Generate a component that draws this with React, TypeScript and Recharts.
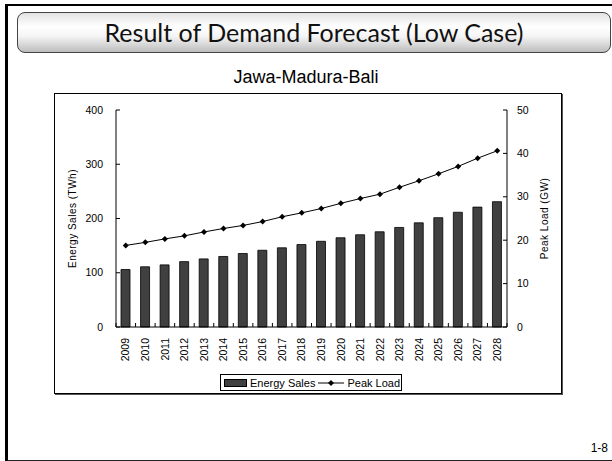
import { ComposedChart, Bar, Line, XAxis, YAxis, Label } from 'recharts';

// years on the x axis
const years = [
  '2009', '2010', '2011', '2012', '2013', '2014', '2015', '2016', '2017', '2018',
  '2019', '2020', '2021', '2022', '2023', '2024', '2025', '2026', '2027', '2028',
];

// energy sales (TWh), left axis
const energySales = [
  106, 111, 114.5, 120.5, 125.5, 130, 135.5, 141.5, 146, 152,
  158, 164.5, 170, 175.5, 183.5, 192, 201.5, 211.5, 221, 231,
];

// peak load (GW), right axis
const peakLoad = [
  18.8, 19.5, 20.3, 21.0, 21.9, 22.7, 23.4, 24.3, 25.4, 26.3,
  27.3, 28.5, 29.6, 30.6, 32.2, 33.7, 35.3, 37.0, 38.9, 40.6,
];

const leftTicks = [0, 100, 200, 300, 400];
const rightTicks = [0, 10, 20, 30, 40, 50];

const data = years.map((y, i) => ({ year: y, sales: energySales[i], peak: peakLoad[i] }));

const FONT = '"Liberation Sans", Arial, sans-serif';

const CHART_W = 506;
const CHART_H = 298;
const LEFT_W = 61;
const RIGHT_W = 54;
const TOP = 16;
const XAXIS_H = 65;
const band = (CHART_W - LEFT_W - RIGHT_W) / years.length;

const LeftTick = (props: any) => {
  const { x, y, payload } = props;
  return (
    <g>
      <line x1={x} x2={x + 4} y1={y} y2={y} stroke="#000" />
      <text x={x - 13} y={y} dy="0.35em" textAnchor="end" fontSize={10.5} fontFamily={FONT} fill="#000">
        {payload.value}
      </text>
    </g>
  );
};

const RightTick = (props: any) => {
  const { x, y, payload } = props;
  return (
    <g>
      <line x1={x - 4} x2={x} y1={y} y2={y} stroke="#000" />
      <text x={x + 10} y={y} dy="0.35em" textAnchor="start" fontSize={10.5} fontFamily={FONT} fill="#000">
        {payload.value}
      </text>
    </g>
  );
};

const YearTick = (props: any) => {
  const { x, y, payload, index } = props;
  const left = x - band / 2;
  return (
    <g>
      <line x1={left} x2={left} y1={y} y2={y - 4} stroke="#000" />
      {index === years.length - 1 && (
        <line x1={x + band / 2} x2={x + band / 2} y1={y} y2={y - 4} stroke="#000" />
      )}
      <text
        transform={`translate(${x},${y + 11}) rotate(-90)`}
        dy="0.35em"
        textAnchor="end"
        fontSize={10.5}
        fontFamily={FONT}
        fill="#000"
      >
        {payload.value}
      </text>
    </g>
  );
};

const Diamond = (props: any) => {
  const { cx, cy } = props;
  if (cx == null || cy == null) return null;
  const r = 3;
  return <polygon points={`${cx},${cy - r} ${cx + r},${cy} ${cx},${cy + r} ${cx - r},${cy}`} fill="#000" />;
};

const App = () => {
  return (
    <div style={{ position: 'absolute', left: 0, top: 0, width: 612, height: 461, background: '#fff', overflow: 'hidden' }}>
      {/* slide frame */}
      <div style={{ position: 'absolute', left: 5, top: 4, width: 620, height: 454, borderLeft: '3px solid #000', borderTop: '2px solid #000', borderBottom: '2px solid #222' }} />

      {/* title bar */}
      <div
        style={{
          position: 'absolute',
          left: 17,
          top: 12,
          width: 594,
          height: 41,
          boxSizing: 'border-box',
          border: '1px solid #444',
          borderRadius: 8,
          background: 'linear-gradient(to bottom, #e2e2e2 0%, #ffffff 35%, #f4f4f4 60%, #bdbdbd 100%)',
          fontFamily: 'Lato, sans-serif',
          fontSize: 25,
          lineHeight: '39px',
          textAlign: 'center',
          color: '#111',
        }}
      >
        Result of Demand Forecast (Low Case)
      </div>

      <div style={{ position: 'absolute', left: 0, width: 612, top: 67, textAlign: 'center', fontFamily: FONT, fontSize: 18, color: '#000' }}>
        Jawa-Madura-Bali
      </div>

      {/* chart frame */}
      <div style={{ position: 'absolute', left: 54, top: 93, width: 508, height: 301, boxSizing: 'border-box', border: '1px solid #000', boxShadow: '1px 1px 0 #555' }}>
        <ComposedChart width={CHART_W} height={CHART_H} data={data} margin={{ top: TOP, right: 0, bottom: 0, left: 0 }} barSize={9}>
          <XAxis
            dataKey="year"
            height={XAXIS_H}
            interval={0}
            tickSize={0}
            tickMargin={0}
            tick={<YearTick />}
            axisLine={{ stroke: '#000' }}
            tickLine={false}
          />
          <XAxis xAxisId="top" dataKey="year" orientation="top" height={0} tick={false} tickLine={false} axisLine={{ stroke: '#000' }} />
          <YAxis
            yAxisId="left"
            width={LEFT_W}
            domain={[0, 400]}
            ticks={leftTicks}
            interval={0}
            tickSize={0}
            tickMargin={0}
            tick={<LeftTick />}
            tickLine={false}
            axisLine={{ stroke: '#000' }}
          >
            <Label
              value="Energy Sales (TWh)"
              angle={-90}
              position="insideLeft"
              offset={17}
              style={{ textAnchor: 'middle', fontSize: 10, letterSpacing: 0.5, fontFamily: FONT, fill: '#000' }}
            />
          </YAxis>
          <YAxis
            yAxisId="right"
            orientation="right"
            width={RIGHT_W}
            domain={[0, 50]}
            ticks={rightTicks}
            interval={0}
            tickSize={0}
            tickMargin={0}
            tick={<RightTick />}
            tickLine={false}
            axisLine={{ stroke: '#000' }}
          >
            <Label
              value="Peak Load (GW)"
              angle={-90}
              position="insideRight"
              offset={17}
              style={{ textAnchor: 'middle', fontSize: 10, letterSpacing: 0.5, fontFamily: FONT, fill: '#000' }}
            />
          </YAxis>
          <Bar yAxisId="left" dataKey="sales" name="Energy Sales" fill="#404040" stroke="#000" strokeWidth={0.8} isAnimationActive={false} />
          <Line
            yAxisId="right"
            dataKey="peak"
            name="Peak Load"
            type="linear"
            stroke="#000"
            strokeWidth={1}
            dot={<Diamond />}
            activeDot={false}
            isAnimationActive={false}
          />
        </ComposedChart>

        {/* legend */}
        <div
          style={{
            position: 'absolute',
            left: 165,
            top: 280,
            width: 182,
            height: 17,
            boxSizing: 'border-box',
            border: '1px solid #000',
            display: 'flex',
            alignItems: 'center',
            fontFamily: FONT,
            fontSize: 11,
            color: '#000',
            whiteSpace: 'nowrap',
          }}
        >
          <span style={{ display: 'inline-block', width: 21, height: 6, marginLeft: 3, background: '#404040', border: '1px solid #000' }} />
          <span style={{ marginLeft: 3 }}>Energy Sales</span>
          <svg width={26} height={10} style={{ marginLeft: 3 }}>
            <line x1={0} x2={26} y1={5} y2={5} stroke="#000" />
            <polygon points="13,2 16,5 13,8 10,5" fill="#000" />
          </svg>
          <span style={{ marginLeft: 3 }}>Peak Load</span>
        </div>
      </div>

      <div style={{ position: 'absolute', right: 4, top: 441, fontFamily: FONT, fontSize: 12, color: '#000' }}>1-8</div>
    </div>
  );
};

export default App;
